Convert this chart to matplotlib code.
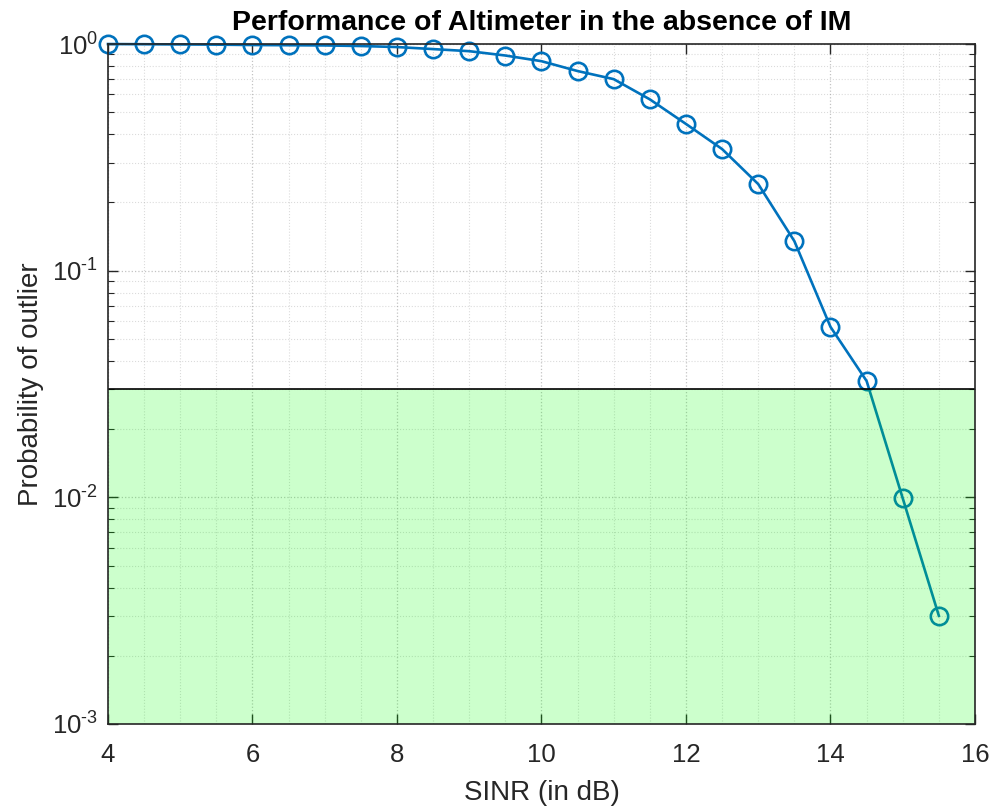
import matplotlib
matplotlib.use("Agg")
import matplotlib.pyplot as plt
import numpy as np
from matplotlib.ticker import LogLocator, MultipleLocator, FixedLocator

plt.rcParams['font.family'] = ['Liberation Sans', 'DejaVu Sans']
plt.rcParams['mathtext.fontset'] = 'custom'
plt.rcParams['mathtext.rm'] = 'Liberation Sans'
plt.rcParams['mathtext.it'] = 'Liberation Sans:italic'
plt.rcParams['mathtext.bf'] = 'Liberation Sans:bold'

sinr_db = [4, 4.5, 5, 5.5, 6, 6.5, 7, 7.5, 8, 8.5, 9, 9.5, 10, 10.5, 11, 11.5,
           12, 12.5, 13, 13.5, 14, 14.5, 15, 15.5]
p_outlier = [1.0, 0.998, 0.996, 0.994, 0.99, 0.988, 0.986, 0.98, 0.97, 0.95,
             0.93, 0.89, 0.84, 0.76, 0.70, 0.57, 0.444, 0.344, 0.241, 0.135,
             0.0565, 0.0326, 0.0099, 0.0030]
threshold = 0.03
x_ticks = [4, 6, 8, 10, 12, 14, 16]
y_ticks = [1e-3, 1e-2, 1e-1, 1e0]
y_tick_labels = ['$10^{\\text{-}3}$', '$10^{\\text{-}2}$', '$10^{\\text{-}1}$', '$10^{0}$']

fig = plt.figure(figsize=(9.95, 8.11), dpi=100)
ax = fig.add_axes([0.1085, 0.1073, 0.8714, 0.8384])

blue = '#0072BD'
ax.semilogy(sinr_db, p_outlier, '-o', color=blue, lw=1.9, ms=12.5,
            markerfacecolor='none', markeredgewidth=1.9, zorder=3, clip_on=False)

ax.axhspan(1e-3, threshold, xmin=0, xmax=1, facecolor=(0, 1, 0), alpha=0.2,
           edgecolor='none', zorder=4)
ax.axhline(threshold, color='black', lw=1.2, zorder=5)

ax.set_xlim(4, 16)
ax.set_ylim(1e-3, 1)
ax.xaxis.set_major_locator(FixedLocator(x_ticks))
ax.xaxis.set_minor_locator(MultipleLocator(0.5))
ax.yaxis.set_major_locator(FixedLocator(y_ticks))
ax.set_yticklabels(y_tick_labels)
ax.yaxis.set_minor_locator(LogLocator(base=10, subs=np.arange(2, 10)))
ax.yaxis.set_minor_formatter(matplotlib.ticker.NullFormatter())

ax.grid(True, which='major', linestyle=':', color='#888888', alpha=0.5, lw=0.9)
ax.grid(True, which='minor', linestyle=':', color='#999999', alpha=0.35, lw=0.8)
ax.set_axisbelow(True)

ax.tick_params(which='both', direction='in', top=True, right=True,
               colors='#262626', labelsize=18.5)
ax.tick_params(axis='x', which='major', pad=14)
ax.tick_params(axis='y', which='major', pad=7)
ax.tick_params(which='major', length=7, width=1)
ax.tick_params(which='minor', length=4, width=0.8)
ax.tick_params(axis='x', which='minor', length=0)
for s in ax.spines.values():
    s.set_color('#262626')
    s.set_linewidth(1.2)
    s.set_zorder(6)

ax.set_xlabel('SINR (in dB)', fontsize=20, color='#262626', labelpad=9)
ax.set_ylabel('Probability of outlier', fontsize=20, color='#262626', labelpad=6)
ax.set_title('Performance of Altimeter in the absence of IM', fontsize=20.5,
             fontweight='bold', pad=10)

fig.savefig('out.png', dpi=100)
